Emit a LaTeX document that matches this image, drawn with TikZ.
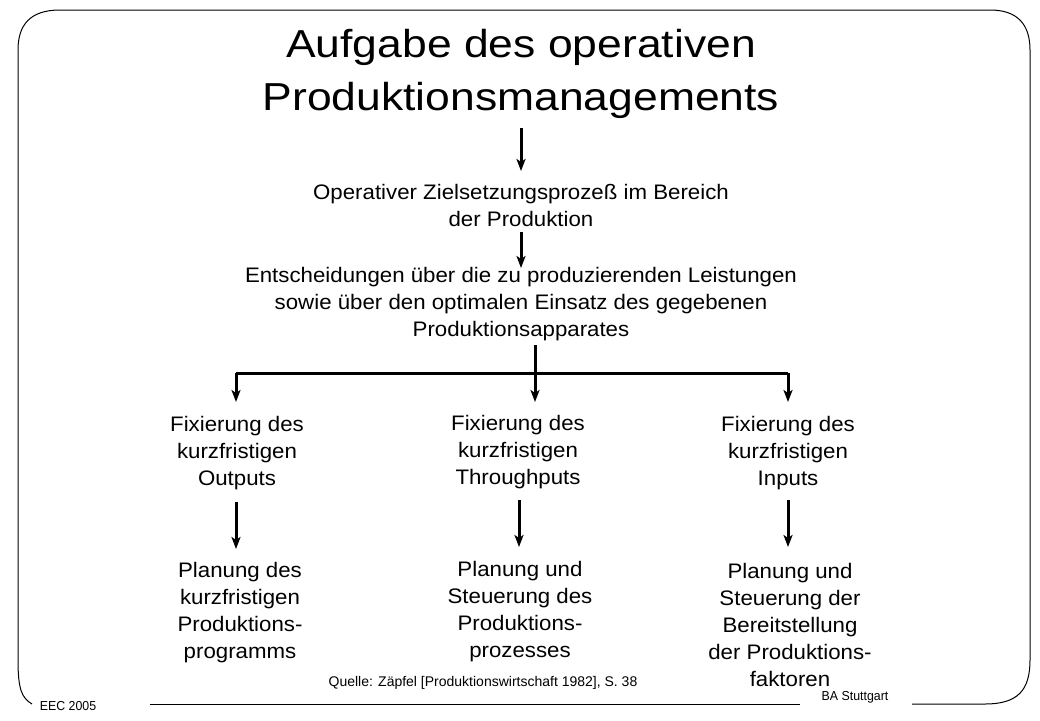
\documentclass[tikz,border=0pt]{standalone}
\usepackage{fontspec}
\setmainfont{Liberation Sans}
\usetikzlibrary{arrows.meta}
\begin{document}
\begin{tikzpicture}[x=1pt,y=-1pt,
  txt/.style={align=center,font=\fontsize{21}{27}\selectfont,inner sep=0pt,xscale=1.06},
  arr/.style={line width=3pt,-{Stealth[length=12pt,width=9pt,inset=3pt]}},
  ln/.style={line width=3pt}]
\useasboundingbox (0,0) rectangle (1040,720);
% frame
\draw[line width=1pt] (32,704) .. controls (22,698) and (18,690) .. (18,660) -- (18,50) .. controls (18,25) and (30,10) .. (60,10) -- (990,10) .. controls (1018,10) and (1030,25) .. (1030,50) -- (1030,660) .. controls (1030,690) and (1018,704) .. (985,704) -- (912,704);
\node[font=\fontsize{13}{15}\selectfont,inner sep=0pt,xscale=0.95] (eec) at (68,706) {EEC 2005};
\node[font=\fontsize{13}{15}\selectfont,inner sep=0pt,xscale=0.95] (ba) at (855,697) {BA Stuttgart};
\draw[line width=1pt] (150,704) -- (800,704);
% title
\node[align=center,font=\fontsize{39}{53}\selectfont,inner sep=0pt,xscale=1.14] (title) at (521,74) {Aufgabe des operativen\\Produktionsmanagements};
\node[txt] (ziel) at (521,205) {Operativer Zielsetzungsprozeß im Bereich\\der Produktion};
\node[txt] (ent) at (521,304) {Entscheidungen über die zu produzierenden Leistungen\\sowie über den optimalen Einsatz des gegebenen\\Produktionsapparates};
\coordinate (a1s) at (521,128); \coordinate (a1e) at (521,171);
\draw[arr] (a1s) -- (a1e);
\coordinate (a2s) at (521,232); \coordinate (a2e) at (521,268);
\draw[arr] (a2s) -- (a2e);
% branch
\coordinate (bs) at (535,345); \coordinate (be) at (535,402);
\coordinate (hl) at (236,373); \coordinate (hr) at (788,373);
\coordinate (ll) at (236,402); \coordinate (rr) at (788,402);
\draw[ln] (hl) -- (hr);
\draw[arr] (bs) -- (be);
\draw[arr] (hl) -- (ll);
\draw[arr] (hr) -- (rr);
\node[txt] (f1) at (237,453) {Fixierung des\\kurzfristigen\\Outputs};
\node[txt] (f2) at (518,452) {Fixierung des\\kurzfristigen\\Throughputs};
\node[txt] (f3) at (788,453) {Fixierung des\\kurzfristigen\\Inputs};
\coordinate (b1s) at (236,502); \coordinate (b1e) at (236,549);
\coordinate (b2s) at (519,500); \coordinate (b2e) at (519,547);
\coordinate (b3s) at (788,500); \coordinate (b3e) at (788,547);
\draw[arr] (b1s) -- (b1e);
\draw[arr] (b2s) -- (b2e);
\draw[arr] (b3s) -- (b3e);
\node[txt] (p1) at (240,613) {Planung des\\kurzfristigen\\Produktions-\\programms};
\node[txt] (p2) at (520,612) {Planung und\\Steuerung des\\Produktions-\\prozesses};
\node[txt] (p3) at (790,625) {Planung und\\Steuerung der\\Bereitstellung\\der Produktions-\\faktoren};
\node[font=\fontsize{14}{16}\selectfont,inner sep=0pt] (q) at (483,683) {Quelle: Zäpfel [Produktionswirtschaft 1982], S. 38};
\end{tikzpicture}
\end{document}
